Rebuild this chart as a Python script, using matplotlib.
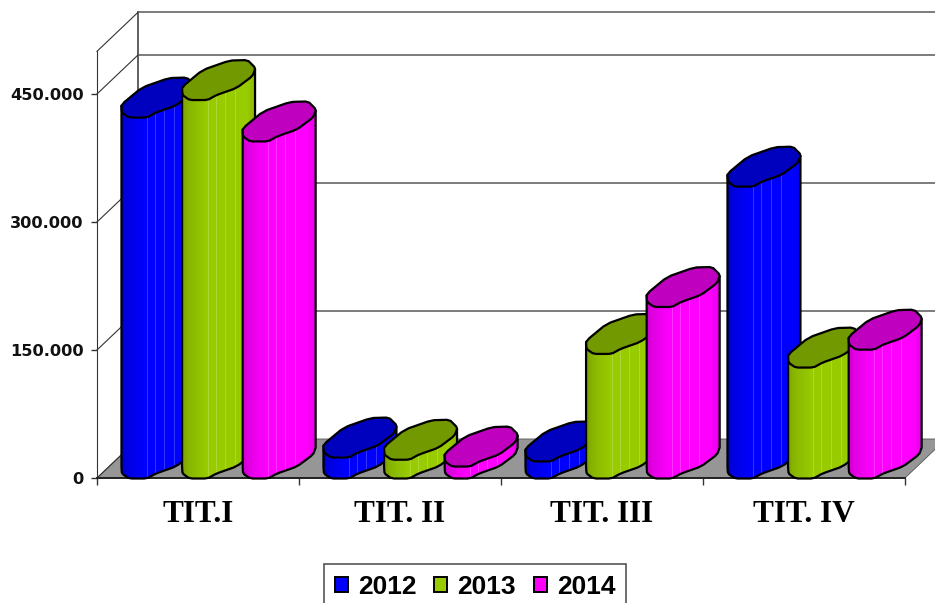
import numpy as np
import matplotlib
matplotlib.use('Agg')
import matplotlib.pyplot as plt
from matplotlib.patches import Polygon, Patch

categories = ['TIT.I', 'TIT. II', 'TIT. III', 'TIT. IV']
years = ['2012', '2013', '2014']
values_2012 = [423000, 24600, 20000, 342000]
values_2013 = [443500, 22000, 146000, 130000]
values_2014 = [395000, 14000, 201000, 151000]
y_ticks = [0, 150000, 300000, 450000]
y_labels = ['0', '150.000', '300.000', '450.000']

face_colors = ['#0000ff', '#99cc00', '#ff00ff']
cap_colors = ['#0000bf', '#739900', '#bf00bf']

# cap outline in pixels, relative to the cap centre (y up)
CAP = np.array([(-36.5, -7), (-16, 10), (11, 19.5), (29, 20), (37, 12), (34, 4),
                (18, -8), (-2, -15), (-11, -20), (-29, -20), (-36, -15)], float)
DEPTH_X = 41
DEPTH_Y = 39
BAR_STEP = 60.6

fig = plt.figure(figsize=(9.35, 6.03), dpi=100)
ax = fig.add_axes([97 / 935, 1 - 478 / 603, 808 / 935, 426.67 / 603])
ax.set_xlim(0, 4)
ax.set_ylim(0, 500000)
PX = 4 / 808
PY = 450000 / 384


def smooth(pts, cut=0.15):
    '''Cut each corner a little, the cap outline stays faceted'''
    nxt = np.roll(pts, -1, axis=0)
    return np.column_stack([(1 - cut) * pts + cut * nxt, cut * pts + (1 - cut) * nxt]).reshape(-1, 2)


CAP_SMOOTH = smooth(CAP)
RIGHT = int(np.argmax(CAP_SMOOTH[:, 0]))
LEFT = int(np.argmin(CAP_SMOOTH[:, 0]))
FRONT = [(RIGHT + i) % len(CAP_SMOOTH) for i in range((LEFT - RIGHT) % len(CAP_SMOOTH) + 1)]


def shade_strip(color):
    '''Horizontal shading of a column body, 72 px wide'''
    base = np.array(matplotlib.colors.to_rgb(color))
    t = np.linspace(0, 1, 72)
    shade = np.interp(t, [0, 0.08, 0.2, 0.33, 0.88, 1], [0.8, 0.88, 0.94, 1, 1, 0.9])
    strip = base * shade[:, None]
    for f in [0.35, 0.47, 0.59, 0.73]:
        i = int(f * 72)
        strip[i] = strip[i] + (1 - strip[i]) * 0.2
    return strip[None, :, :]


def draw_walls():
    x0, x1 = 0, 4
    dx, dy = DEPTH_X * PX, DEPTH_Y * PY
    floor = Polygon([(x0, 0), (x0 + dx, dy), (x1 + dx, dy), (x1, 0)], closed=True,
                    fc='#969696', ec='#555555', lw=0.6, clip_on=False, zorder=1)
    ax.add_patch(floor)
    ax.plot([x0 + dx, x0 + dx], [dy, 500000 + dy], color='#444444', lw=1.2, clip_on=False, zorder=1)
    for v in [150000, 300000, 450000, 500000]:
        ax.plot([x0 + dx, x1 + dx], [v + dy, v + dy], color='#666666', lw=1.2, clip_on=False, zorder=1)
        ax.plot([x0, x0 + dx], [v, v + dy], color='#333333', lw=0.8, clip_on=False, zorder=1)
    ax.plot([x0, x0 + dx], [0, dy], color='#333333', lw=0.8, clip_on=False, zorder=1)


def draw_column(center, value, k, z):
    '''One sheared cylinder, center in category units'''
    cx = center + CAP_SMOOTH[:, 0] * PX
    base = CAP_SMOOTH[:, 1] * PY + 19.5 * PY
    top = base + value
    front = [(cx[i], base[i]) for i in FRONT]
    outline = front + [(cx[LEFT], top[LEFT]), (cx[RIGHT], top[RIGHT])]
    body = Polygon(outline, closed=True, fc='none', ec='black', lw=1.6, clip_on=False,
                   joinstyle='round', zorder=z + 0.2)
    ax.add_patch(body)
    clip = Polygon(outline, closed=True, transform=ax.transData)
    im = ax.imshow(shade_strip(face_colors[k]), aspect='auto', interpolation='nearest',
                   extent=(center - 37 * PX, center + 37 * PX, 0, value + 60 * PY), zorder=z + 0.1)
    im.set_clip_path(clip)
    im.set_clip_box(fig.bbox)
    cap = Polygon(np.column_stack([cx, top]), closed=True, fc=cap_colors[k], ec='black', lw=1.6,
                  clip_on=False, joinstyle='round', zorder=z + 0.3)
    ax.add_patch(cap)


draw_walls()

series = [values_2012, values_2013, values_2014]
z = 3
for c in range(len(categories)):
    for k, vals in enumerate(series):
        center = c + 0.5 + (20.5 + (k - 1) * BAR_STEP) * PX
        draw_column(center, vals[c], k, z)
        z += 1

ax.set_xlim(0, 4)
ax.set_ylim(0, 500000)
ax.patch.set_visible(False)
for s in ['top', 'right']:
    ax.spines[s].set_visible(False)
ax.spines['left'].set_color('#333333')
ax.spines['bottom'].set_color('#222222')
ax.spines['bottom'].set_linewidth(1.4)
ax.spines['left'].set_zorder(2)
ax.spines['bottom'].set_zorder(2)

ax.set_yticks(y_ticks)
ax.set_yticklabels(y_labels, family='DejaVu Sans', fontweight='bold', fontsize=11.7, color='#111111')
ax.tick_params(axis='y', length=4.5, width=1, color='#333333', pad=5)
ax.set_xticks(range(5))
ax.set_xticklabels([])
ax.tick_params(axis='x', length=5, width=1, color='#333333')
ax.set_xticks([c + 0.5 for c in range(4)], minor=True)
ax.set_xticklabels(categories, minor=True, family='Liberation Serif', fontweight='bold', fontsize=22.5)
ax.tick_params(axis='x', which='minor', length=0, pad=16)

handles = [Patch(fc=face_colors[k], ec='black', lw=1.4, label=years[k]) for k in range(3)]
leg = fig.legend(handles=handles, loc='upper center', bbox_to_anchor=(475 / 935, 1 - 564 / 603),
                 ncol=3, frameon=True, fancybox=False, edgecolor='#555555', framealpha=1,
                 prop={'family': 'Liberation Sans', 'weight': 'bold', 'size': 19},
                 handlelength=0.5, handleheight=0.5, handletextpad=0.37, columnspacing=0.68,
                 borderpad=0.4, borderaxespad=0)
leg.get_frame().set_linewidth(1.2)

fig.savefig('out.png', dpi=100)
